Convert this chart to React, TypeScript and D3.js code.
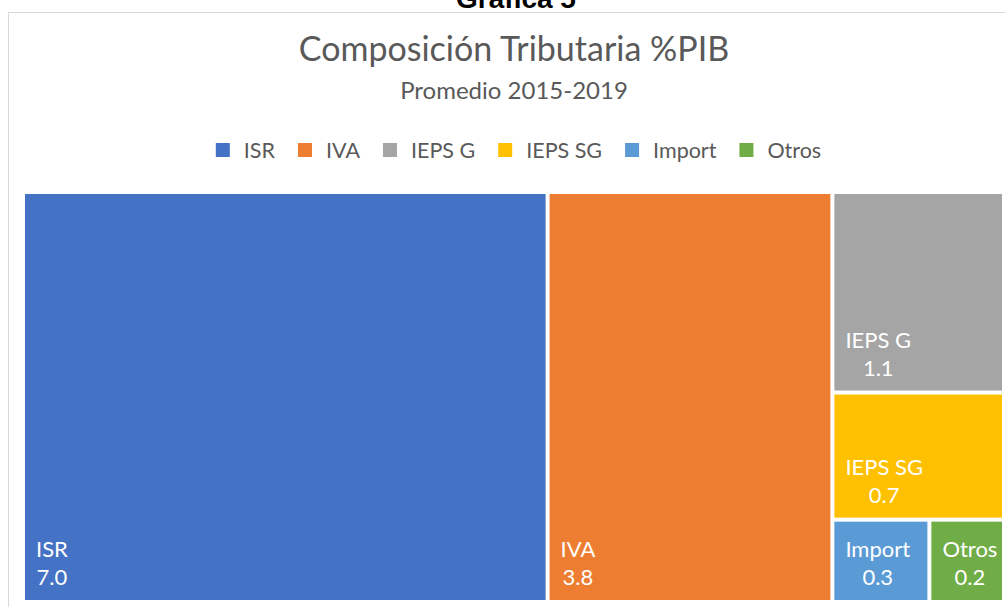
import React, { useRef, useEffect } from "react";
import * as d3 from "d3";

const categories = ["ISR", "IVA", "IEPS G", "IEPS SG", "Import", "Otros"];
const values = [7.0, 3.8, 1.12, 0.71, 0.26, 0.2];
const colors = ["#4472C4", "#ED7D31", "#A5A5A5", "#FFC000", "#5B9BD5", "#70AD47"];

const width = 1005;
const height = 607;
const font = "Lato, 'Open Sans', sans-serif";

const App = () => {
  const svgRef = useRef<SVGSVGElement>(null);

  useEffect(() => {
    const svg = d3.select(svgRef.current);
    svg.selectAll("*").remove();

    // chart frame (cut by the page on the right and bottom)
    svg
      .append("rect")
      .attr("x", 8.5)
      .attr("y", 12.5)
      .attr("width", 1100)
      .attr("height", 700)
      .attr("fill", "#fff")
      .attr("stroke", "#d9d9d9");

    // caption above the frame, mostly out of view
    svg
      .append("text")
      .attr("x", 516)
      .attr("y", 8)
      .attr("text-anchor", "middle")
      .attr("font-family", "Arial, 'Liberation Sans', sans-serif")
      .attr("font-weight", "bold")
      .attr("font-size", 28)
      .attr("fill", "#000")
      .text("Gráfica 5");

    svg
      .append("text")
      .attr("x", 514)
      .attr("y", 61)
      .attr("text-anchor", "middle")
      .attr("font-family", font)
      .attr("font-size", 34)
      .attr("fill", "#595959")
      .text("Composición Tributaria %PIB");

    svg
      .append("text")
      .attr("x", 514)
      .attr("y", 99)
      .attr("text-anchor", "middle")
      .attr("font-family", font)
      .attr("font-size", 24)
      .attr("fill", "#595959")
      .text("Promedio 2015-2019");

    // legend: measure each label, then center the whole row
    const legend = svg.append("g");
    const items = legend
      .selectAll("g")
      .data(categories)
      .join("g");
    items
      .append("text")
      .attr("x", 28)
      .attr("y", 158)
      .attr("font-family", font)
      .attr("font-size", 21.5)
      .attr("fill", "#595959")
      .text((d) => d);
    let cursor = 0;
    items.each(function (d, i) {
      const t = d3.select(this).select("text").node() as SVGTextElement;
      const w = t.getComputedTextLength();
      d3.select(this).attr("transform", `translate(${cursor},0)`);
      d3.select(this)
        .append("rect")
        .attr("x", 0)
        .attr("y", 143)
        .attr("width", 14)
        .attr("height", 14)
        .attr("fill", colors[i]);
      cursor += 28 + w + 23;
    });
    const legendW = cursor - 23;
    legend.attr("transform", `translate(${518.5 - legendW / 2},0)`);

    // treemap
    const root = d3
      .hierarchy({ children: categories.map((c, i) => ({ name: c, value: values[i], color: colors[i] })) } as any)
      .sum((d: any) => d.value || 0);

    d3.treemap().tile(d3.treemapSquarify.ratio(1)).paddingInner(4).size([977, 406])(root);

    const leaves = svg
      .append("g")
      .attr("transform", "translate(25,194)")
      .selectAll(".tile")
      .data(root.leaves() as any[])
      .join("g")
      .attr("class", "tile");

    leaves
      .append("rect")
      .attr("x", (d) => d.x0)
      .attr("y", (d) => d.y0)
      .attr("width", (d) => d.x1 - d.x0)
      .attr("height", (d) => d.y1 - d.y0)
      .attr("fill", (d) => d.data.color);

    leaves.each(function (d) {
      const g = d3.select(this);
      const name = g
        .append("text")
        .attr("font-family", font)
        .attr("font-size", 22)
        .attr("fill", "#fff")
        .attr("text-anchor", "middle")
        .text(d.data.name);
      const val = g
        .append("text")
        .attr("font-family", font)
        .attr("font-size", 22)
        .attr("fill", "#fff")
        .attr("text-anchor", "middle")
        .text(d3.format(".1f")(d.data.value));
      const w = Math.max(
        (name.node() as SVGTextElement).getComputedTextLength(),
        (val.node() as SVGTextElement).getComputedTextLength()
      );
      const cx = d.x0 + 11 + w / 2;
      name.attr("x", cx).attr("y", d.y1 - 43);
      val.attr("x", cx).attr("y", d.y1 - 15);
    });
  }, []);

  return (
    <>
      <style>{`html, body { margin: 0; padding: 0; overflow: hidden; }`}</style>
      <svg
        ref={svgRef}
        width={width}
        height={height}
        style={{ display: "block", position: "absolute", top: 0, left: 0 }}
      />
    </>
  );
};

export default App;
